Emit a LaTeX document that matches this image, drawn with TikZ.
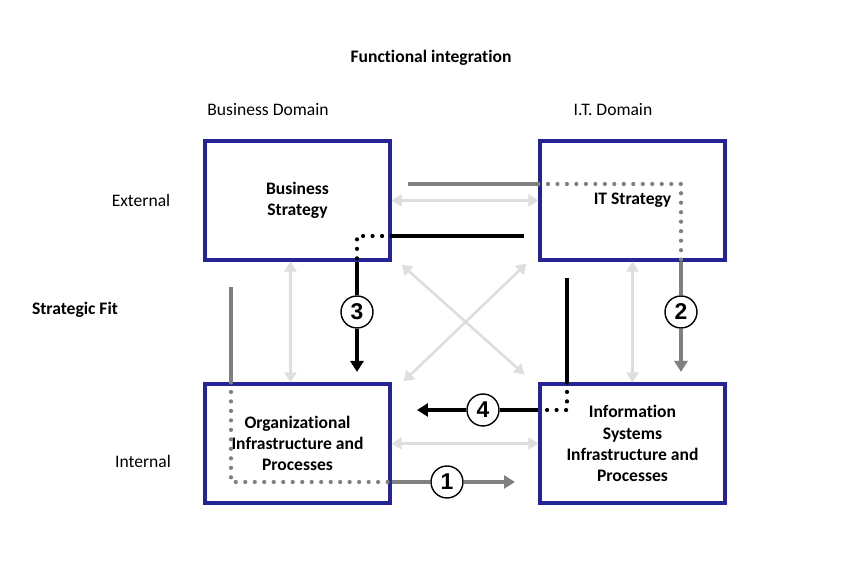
\documentclass[tikz,border=0pt]{standalone}
\usepackage{fontspec}
\setmainfont{Carlito}[Ligatures=NoCommon]
\newfontfamily\numfont{Liberation Sans}
\usepackage{tikz}
\usetikzlibrary{arrows.meta,positioning,calc}

\definecolor{boxblue}{RGB}{36,36,150}
\definecolor{lightgr}{RGB}{222,222,222}
\definecolor{midgr}{RGB}{128,128,128}

\begin{document}
\begin{tikzpicture}[
    x=0.02cm, y=-0.02cm,
    box/.style={rectangle, draw=boxblue, line width=1.8pt, minimum width=3.7cm, minimum height=2.38cm, align=center, font=\bfseries, inner sep=0pt},
    num/.style={circle, draw=black, line width=0.8pt, fill=white, minimum size=0.64cm, inner sep=0pt, font=\numfont\bfseries\fontsize{13}{13}\selectfont},
    light/.style={{Triangle[length=0.2cm,width=0.24cm]}-{Triangle[length=0.2cm,width=0.24cm]}, draw=lightgr, line width=1.5pt},
    blkline/.style={draw=black, line width=2pt},
    grayline/.style={draw=midgr, line width=2pt},
    blkdot/.style={draw=black, line width=2.4pt, line cap=round, dash pattern=on 0pt off 5.4pt},
    graydot/.style={draw=midgr, line width=2.4pt, line cap=round, dash pattern=on 0pt off 5.4pt},
    tip/.style={-{Triangle[length=0.22cm,width=0.26cm]}},
    label/.style={font=\fontsize{10}{12}\selectfont}
]
    \useasboundingbox (0,0) rectangle (850,580);

    % Headings
    \node[label, font=\bfseries] (title) at (431,58) {Functional integration};
    \node[label] (busdom) at (268,110) {Business Domain};
    \node[label] (itdom) at (613,110) {I.T. Domain};
    \node[label] (ext) at (141,200) {External};
    \node[label, font=\bfseries] (fit) at (75,310) {Strategic Fit};
    \node[label] (int) at (143,461) {Internal};

    % The four domains
    \node[box] (bs) at (297.5,200.5) {Business\\Strategy};
    \node[box] (its) at (632.5,200.5) {IT Strategy};
    \node[box] (oi) at (297.5,443.5) {Organizational\\Infrastructure and\\Processes};
    \node[box] (is) at (632.5,443.5) {Information\\Systems\\Infrastructure and\\Processes};

    % Light links between all domains
    \draw[light] (bs.east) -- (its.west);
    \draw[light] (oi.east) -- (is.west);
    \draw[light] ($(bs.south)+(-7,0)$) -- ($(oi.north)+(-7,0)$);
    \draw[light] ($(its.south)+(0,0)$) -- ($(is.north)+(0,0)$);
    \draw[light] ($(bs.south east)+(10,3)$) -- ($(is.north west)+(-14,-8)$);
    \draw[light] ($(its.south west)+(-12,2)$) -- ($(oi.north east)+(12,-1)$);

    % Numbered alignments
    \node[num] (c1) at (447,482) {1};
    \node[num] (c2) at (681,312) {2};
    \node[num] (c3) at (357,312) {3};
    \node[num] (c4) at (483,410) {4};

    \coordinate (s1) at (231,287);
    \coordinate (e1) at (515,482);
    \coordinate (s2) at (408,184);
    \coordinate (e2) at (681,372);
    \coordinate (s3) at (524,236);
    \coordinate (e3) at (357,372);
    \coordinate (s4) at (567,278);
    \coordinate (e4) at (417,410);

    % 1: strategy execution
    \draw[grayline] (s1) -- (s1 |- oi.north);
    \draw[graydot] (s1 |- oi.north) -- (s1 |- c1) -- (oi.east |- c1);
    \draw[grayline] (oi.east |- c1) -- (c1);
    \draw[grayline, tip] (c1) -- (e1);

    % 2: technology transformation
    \draw[grayline] (s2) -- (s2 -| its.west);
    \draw[graydot] (s2 -| its.west) -- (s2 -| c2) -- (its.south -| c2);
    \draw[grayline] (its.south -| c2) -- (c2);
    \draw[grayline, tip] (c2) -- (e2);

    % 3: competitive potential
    \draw[blkline] (s3) -- (s3 -| bs.east);
    \draw[blkdot] (s3 -| bs.east) -- (s3 -| c3) -- (bs.south -| c3);
    \draw[blkline] (bs.south -| c3) -- (c3);
    \draw[blkline, tip] (c3) -- (e3);

    % 4: service level
    \draw[blkline] (s4) -- (s4 |- is.north);
    \draw[blkdot] (s4 |- is.north) -- (s4 |- c4) -- (is.west |- c4);
    \draw[blkline] (is.west |- c4) -- (c4);
    \draw[blkline, tip] (c4) -- (e4);
\end{tikzpicture}
\end{document}
